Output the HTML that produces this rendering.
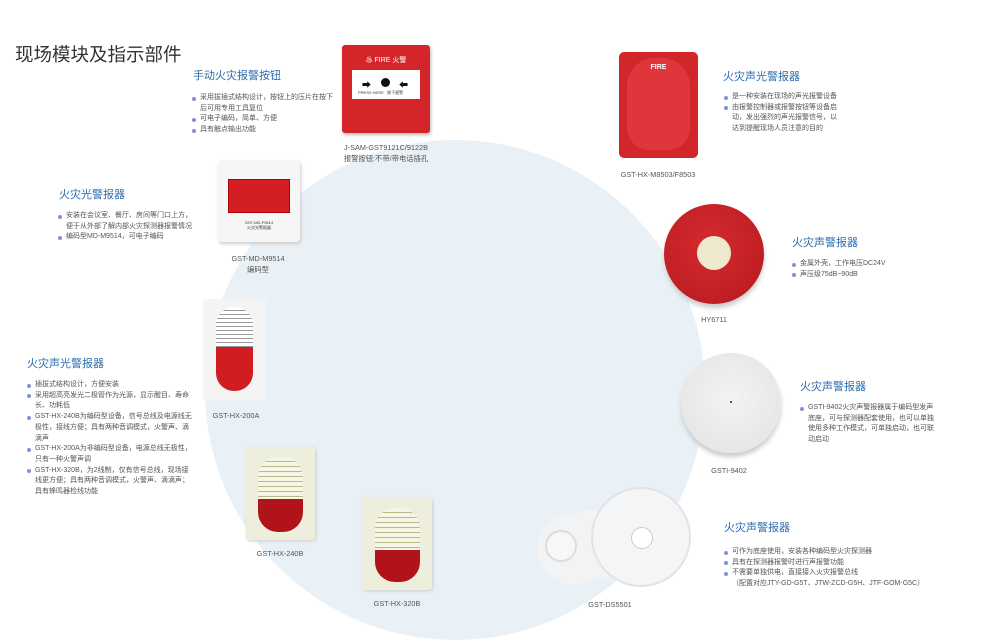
<!DOCTYPE html>
<html><head><meta charset="utf-8"><style>
*{margin:0;padding:0;box-sizing:border-box}
body{width:995px;height:618px;position:relative;overflow:hidden;background:#fff;font-family:"Liberation Sans","Noto Sans CJK SC",sans-serif;color:#444}
.a{position:absolute}
.h{position:absolute;color:#2b6cb0;font-size:11px;white-space:nowrap}
.b{position:absolute;font-size:7px;line-height:10.7px;color:#555;white-space:nowrap}
.b p{position:relative;padding-left:8px}
.b p.d:before{content:"";position:absolute;left:0;top:3.5px;width:4px;height:4px;border-radius:50%;background:#7d92d4}
.c{position:absolute;font-size:7.3px;line-height:11px;color:#555;text-align:center;white-space:nowrap;transform:translateX(-50%)}
</style></head><body>
<div class="a" style="left:205px;top:140px;width:500px;height:500px;border-radius:50%;background:#e9f1f6"></div>

<div class="a" style="left:15px;top:41px;font-size:18.5px;color:#333">现场模块及指示部件</div>

<!-- manual button -->
<div class="h" style="left:193px;top:67px">手动火灾报警按钮</div>
<div class="b" style="left:192px;top:93px"><p class="d">采用拔插式结构设计，按钮上的压片在按下</p><p>后可用专用工具复位</p><p class="d">可电子编码，简单、方便</p><p class="d">具有触点输出功能</p></div>
<div class="a" style="left:342px;top:45px;width:88px;height:88px;background:#d4262a;border-radius:3px;box-shadow:1px 2px 3px #bbb">
 <div class="a" style="left:0;top:10px;width:88px;text-align:center;color:#fff;font-size:7px">♨ FIRE 火警</div>
 <div class="a" style="left:10px;top:25px;width:68px;height:29px;background:#fff">
  <div class="a" style="left:10px;top:8px;font-size:9px;color:#111">➡</div>
  <div class="a" style="left:29px;top:8px;width:9px;height:9px;border-radius:50%;background:#111"></div>
  <div class="a" style="left:47px;top:8px;font-size:9px;color:#111">⬅</div>
  <div class="a" style="left:6px;top:20px;font-size:4px;color:#333">PRESS HERE &nbsp; 按下报警</div>
 </div>
</div>
<div class="c" style="left:386px;top:142px">J-SAM-GST9121C/9122B<br>报警按钮:不带/带电话插孔</div>

<!-- MD-M9514 -->
<div class="h" style="left:59px;top:186px">火灾光警报器</div>
<div class="b" style="left:58px;top:211px"><p class="d">安装在会议室、餐厅、房间等门口上方，</p><p>便于从外部了解内部火灾探测器报警情况</p><p class="d">编码型MD-M9514，可电子编码</p></div>
<div class="a" style="left:218px;top:160px;width:82px;height:82px;background:#f6f6f6;border-radius:4px;box-shadow:1px 2px 3px #ccc">
 <div class="a" style="left:10px;top:19px;width:62px;height:34px;background:#d31e24;border:1px solid #a00"></div>
 <div class="a" style="left:0;top:60px;width:82px;text-align:center;font-size:4px;color:#333">GST-MD-F9514<br>火灾光警报器</div>
</div>
<div class="c" style="left:258px;top:253px">GST-MD-M9514<br>编码型</div>

<!-- left 声光 -->
<div class="h" style="left:27px;top:355px">火灾声光警报器</div>
<div class="b" style="left:27px;top:380px"><p class="d">插拔式结构设计，方便安装</p><p class="d">采用超高亮发光二极管作为光源，显示醒目、寿命</p><p>长、功耗低</p><p class="d">GST-HX-240B为编码型设备，信号总线及电源线无</p><p>极性，接线方便；具有两种音调模式，火警声、滴</p><p>滴声</p><p class="d">GST-HX-200A为非编码型设备，电源总线无极性，</p><p>只有一种火警声调</p><p class="d">GST-HX-320B，为2线制，仅有信号总线，现场接</p><p>线更方便；具有两种音调模式，火警声、滴滴声；</p><p>具有蜂鸣器检线功能</p></div>

<div class="a" style="left:203px;top:299px;width:63px;height:101px;background:#f4f4f4;border-radius:3px">
 <div class="a" style="left:13px;top:8px;width:37px;height:40px;background:repeating-linear-gradient(#fff 0 3px,#999 3px 4px);border-radius:18px 18px 0 0"></div>
 <div class="a" style="left:13px;top:48px;width:37px;height:44px;background:#d11c22;border-radius:0 0 18px 18px"></div>
</div>
<div class="c" style="left:236px;top:410px">GST-HX-200A</div>

<div class="a" style="left:246px;top:447px;width:69px;height:93px;background:#eeeedd;border-radius:3px;box-shadow:1px 1px 3px #ccc">
 <div class="a" style="left:12px;top:10px;width:45px;height:42px;background:repeating-linear-gradient(#f6f6e6 0 4px,#b9b98a 4px 5px);border-radius:20px 20px 0 0"></div>
 <div class="a" style="left:12px;top:52px;width:45px;height:33px;background:#b0141a;border-radius:0 0 20px 20px"></div>
</div>
<div class="c" style="left:280px;top:548px">GST-HX-240B</div>

<div class="a" style="left:362px;top:498px;width:70px;height:92px;background:#eeeedd;border-radius:3px;box-shadow:1px 1px 3px #ccc">
 <div class="a" style="left:13px;top:10px;width:45px;height:42px;background:repeating-linear-gradient(#f6f6e6 0 4px,#b9b98a 4px 5px);border-radius:20px 20px 0 0"></div>
 <div class="a" style="left:13px;top:52px;width:45px;height:32px;background:#b0141a;border-radius:0 0 20px 20px"></div>
</div>
<div class="c" style="left:397px;top:598px">GST-HX-320B</div>

<!-- M8503 -->
<div class="a" style="left:619px;top:52px;width:79px;height:106px;background:#d3262b;border-radius:5px">
 <div class="a" style="left:8px;top:6px;width:63px;height:92px;background:#e0353a;border-radius:28px 28px 22px 22px"></div>
 <div class="a" style="left:0;top:12px;width:79px;text-align:center;font-size:7px;color:#fff;font-weight:bold">FIRE</div>
</div>
<div class="c" style="left:658px;top:169px">GST-HX-M8503/F8503</div>
<div class="h" style="left:723px;top:68px">火灾声光警报器</div>
<div class="b" style="left:724px;top:92px"><p class="d">是一种安装在现场的声光报警设备</p><p class="d">由报警控制器或报警按钮等设备启</p><p>动，发出强烈的声光报警信号，以</p><p>达到提醒现场人员注意的目的</p></div>

<!-- HY6711 -->
<div class="a" style="left:664px;top:204px;width:100px;height:100px;border-radius:50%;background:radial-gradient(circle at 45% 40%,#d52a2e,#b51a1f);box-shadow:0 4px 5px #ccc">
 <div class="a" style="left:33px;top:32px;width:34px;height:34px;border-radius:50%;background:#eee8cc"></div>
</div>
<div class="c" style="left:714px;top:314px">HY6711</div>
<div class="h" style="left:792px;top:234px">火灾声警报器</div>
<div class="b" style="left:792px;top:259px"><p class="d">金属外壳，工作电压DC24V</p><p class="d">声压级75dB~90dB</p></div>

<!-- GSTI-9402 -->
<div class="a" style="left:681px;top:353px;width:100px;height:100px;border-radius:50%;background:radial-gradient(circle at 50% 45%,#f3f3f3,#e2e2e2);box-shadow:0 4px 5px #ccc">
 <div class="a" style="left:49px;top:48px;width:2px;height:2px;background:#222;border-radius:50%"></div>
</div>
<div class="c" style="left:729px;top:465px">GSTI-9402</div>
<div class="h" style="left:800px;top:378px">火灾声警报器</div>
<div class="b" style="left:800px;top:403px"><p class="d">GSTI-9402火灾声警报器属于编码型发声</p><p>底座，可与探测器配套使用，也可以单独</p><p>使用多种工作模式，可单独启动，也可联</p><p>动启动</p></div>

<!-- DS5501 -->
<div class="a" style="left:537px;top:512px;width:90px;height:70px;border-radius:35px;background:#f2f3f5;transform:rotate(-12deg)"></div>
<div class="a" style="left:545px;top:530px;width:32px;height:32px;border-radius:50%;background:#f7f7f7;border:2px solid #ddd"></div>
<div class="a" style="left:591px;top:487px;width:100px;height:100px;border-radius:50%;background:#f4f5f6;border:2px solid #e3e3e6">
 <div class="a" style="left:38px;top:38px;width:22px;height:22px;border-radius:50%;background:#fff;border:1px solid #ccc"></div>
</div>
<div class="c" style="left:610px;top:599px">GST-DS5501</div>
<div class="h" style="left:724px;top:519px">火灾声警报器</div>
<div class="b" style="left:724px;top:547px"><p class="d">可作为底座使用，安装各种编码型火灾探测器</p><p class="d">具有在探测器报警时进行声报警功能</p><p class="d">不需要单独供电，直接接入火灾报警总线</p><p>（配置对应JTY-GD-G5T、JTW-ZCD-G5H、JTF-GOM-G5C）</p></div>
</body></html>
